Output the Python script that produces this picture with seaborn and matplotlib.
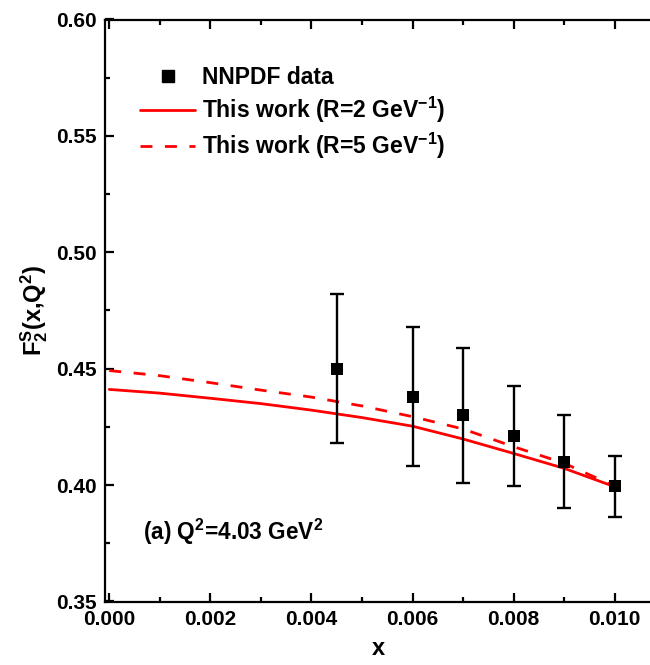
import matplotlib
matplotlib.use("Agg")
import matplotlib.pyplot as plt
from matplotlib.lines import Line2D
from matplotlib.ticker import MultipleLocator, FormatStrFormatter
import numpy as np
import pandas as pd
import seaborn as sns

# ---- data ----
data_x = [0.0045, 0.006, 0.007, 0.008, 0.009, 0.010]
data_y = [0.450, 0.438, 0.430, 0.421, 0.410, 0.3995]
data_err = [0.032, 0.030, 0.029, 0.0215, 0.020, 0.013]

curve_x = [0.0000, 0.001, 0.002, 0.003, 0.004, 0.005, 0.006, 0.007, 0.008, 0.009, 0.010]
r2_y = [0.4411, 0.4395, 0.4373, 0.4350, 0.4322, 0.4290, 0.4253, 0.4198, 0.4136, 0.4072, 0.3993]
r5_y = [0.4492, 0.4470, 0.4440, 0.4408, 0.4378, 0.4340, 0.4294, 0.4241, 0.4165, 0.4094, 0.3995]

legend_labels = ["NNPDF data",
                 r"This work (R=2 GeV$^{\mathrm{-}1}$)",
                 r"This work (R=5 GeV$^{\mathrm{-}1}$)"]
annotation = r"(a) Q$^2$=4.03 GeV$^2$"
xlabel = "x"
ylabel = r"F$_2^{\rm S}$(x,Q$^2$)"

# ---- style ----
sns.set_style("ticks")
plt.rcParams["font.family"] = ["Liberation Sans", "DejaVu Sans"]
plt.rcParams["font.weight"] = "bold"
plt.rcParams["mathtext.fontset"] = "custom"
plt.rcParams["mathtext.rm"] = "Liberation Sans:bold"
plt.rcParams["mathtext.it"] = "Liberation Sans:bold"
plt.rcParams["mathtext.bf"] = "Liberation Sans:bold"
plt.rcParams["axes.linewidth"] = 1.6
for key in ["text.color", "axes.labelcolor", "xtick.color", "ytick.color",
            "axes.edgecolor", "xtick.labelcolor", "ytick.labelcolor"]:
    plt.rcParams[key] = "black"

fig = plt.figure(figsize=(6.5, 6.65), dpi=100)
ax = fig.add_axes([105 / 650, 63.5 / 665, 547 / 650, 582 / 665])

df2 = pd.DataFrame({"x": curve_x, "y": r2_y})
df5 = pd.DataFrame({"x": curve_x, "y": r5_y})
sns.lineplot(data=df2, x="x", y="y", ax=ax, color="red", lw=2.0, sort=True)
sns.lineplot(data=df5, x="x", y="y", ax=ax, color="red", lw=2.0, sort=True,
             linestyle=(0, (4.3, 4.5)))

ax.errorbar(data_x, data_y, yerr=data_err, fmt="none", ecolor="black",
            elinewidth=1.7, capsize=5, capthick=1.7, zorder=3)
dfd = pd.DataFrame({"x": data_x, "y": data_y})
sns.scatterplot(data=dfd, x="x", y="y", ax=ax, marker="s", s=65,
                color="black", edgecolor="black", linewidth=0, zorder=4)

ax.set_xlim(-0.000085, 0.010738)
ax.set_ylim(0.35, 0.60)
ax.xaxis.set_major_locator(MultipleLocator(0.002))
ax.xaxis.set_minor_locator(MultipleLocator(0.001))
ax.yaxis.set_major_locator(MultipleLocator(0.05))
ax.yaxis.set_minor_locator(MultipleLocator(0.025))
ax.xaxis.set_major_formatter(FormatStrFormatter("%.3f"))
ax.yaxis.set_major_formatter(FormatStrFormatter("%.2f"))
ax.tick_params(which="both", direction="in", top=True, right=False,
               width=1.6, labelsize=15, color="black", labelcolor="black")
ax.tick_params(which="major", length=6.5, pad=6)
ax.tick_params(which="minor", length=3.5)
ax.spines["right"].set_visible(False)
for sp in ax.spines.values():
    sp.set_color("black")
for lab in ax.get_xticklabels() + ax.get_yticklabels():
    lab.set_fontweight("bold")

ax.set_xlabel(xlabel, fontsize=17, fontweight="bold", labelpad=6, color="black")
ax.set_ylabel(ylabel, fontsize=17, fontweight="bold", labelpad=4, color="black")

handles = [
    Line2D([], [], marker="s", color="black", linestyle="none", markersize=9),
    Line2D([], [], color="red", lw=2.0),
    Line2D([], [], color="red", lw=2.0, linestyle=(0, (4.3, 4.5))),
]
leg = ax.legend(handles, legend_labels, loc="upper left",
                bbox_to_anchor=((140 - 105) / 547, (601.5 - 66) / 582),
                frameon=False, fontsize=16.5, handlelength=2.4,
                handletextpad=0.3, labelspacing=0.25, borderpad=0,
                borderaxespad=0)
for t in leg.get_texts():
    t.set_fontweight("bold")
    t.set_color("black")

ax.text((143 - 105) / 547, (601.5 - 532) / 582, annotation,
        transform=ax.transAxes, fontsize=16.3, fontweight="bold",
        ha="left", va="center", color="black")

fig.savefig("out.png", dpi=100)
